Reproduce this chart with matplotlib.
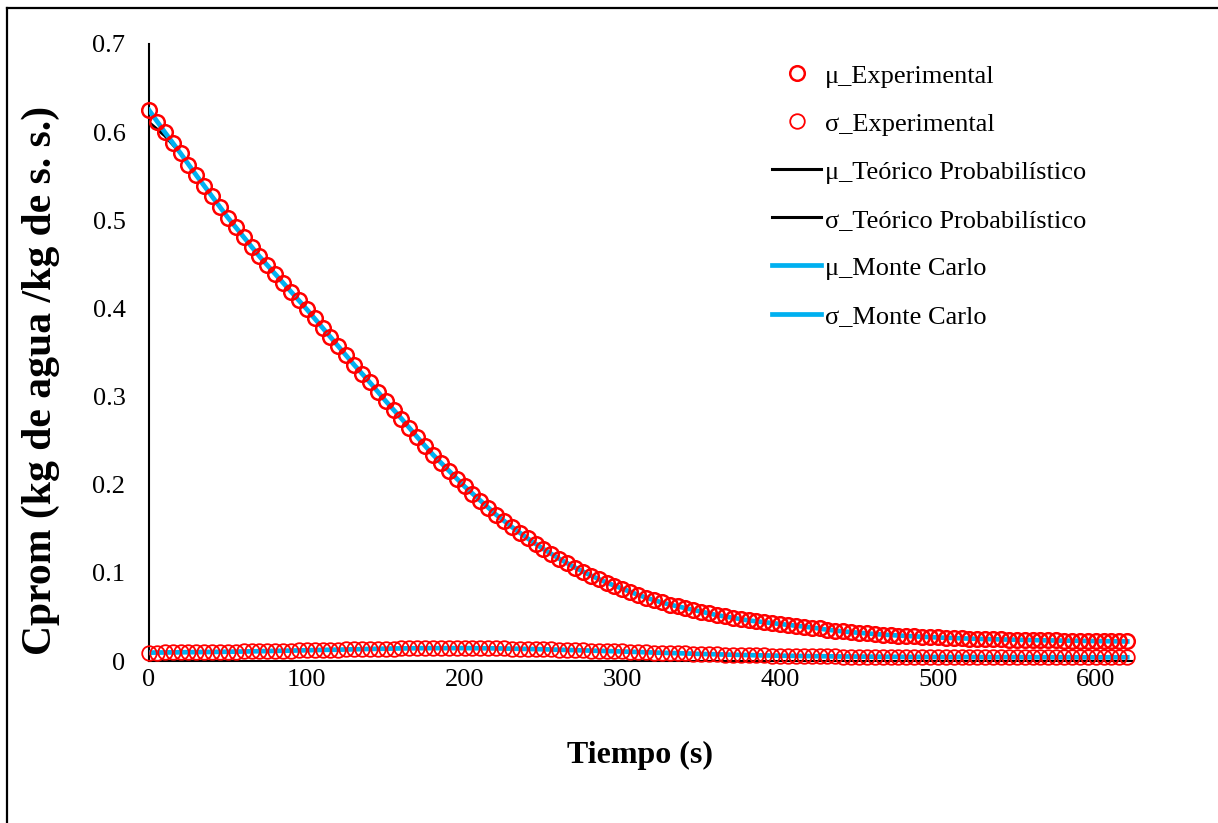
import matplotlib
matplotlib.use("Agg")
import matplotlib.pyplot as plt
from matplotlib.lines import Line2D

plt.rcParams['font.family'] = ['Liberation Serif', 'DejaVu Serif']

# tiempo (s)
t = list(range(0, 625, 5))

# media experimental, Cprom (kg de agua / kg de s. s.)
mu_exp = [0.625, 0.612, 0.600, 0.588, 0.576, 0.563, 0.551, 0.539, 0.527, 0.515,
          0.503, 0.492, 0.481, 0.470, 0.459, 0.449, 0.439, 0.429, 0.419, 0.409,
          0.399, 0.389, 0.378, 0.368, 0.357, 0.347, 0.336, 0.326, 0.316, 0.305,
          0.295, 0.285, 0.275, 0.264, 0.254, 0.244, 0.234, 0.225, 0.216, 0.207,
          0.198, 0.190, 0.182, 0.174, 0.166, 0.159, 0.152, 0.145, 0.139, 0.133,
          0.127, 0.121, 0.116, 0.111, 0.106, 0.101, 0.097, 0.093, 0.089, 0.085,
          0.082, 0.078, 0.075, 0.072, 0.069, 0.067, 0.064, 0.062, 0.060, 0.058,
          0.056, 0.054, 0.052, 0.051, 0.049, 0.048, 0.046, 0.045, 0.044, 0.043,
          0.042, 0.041, 0.040, 0.039, 0.038, 0.037, 0.0355, 0.0345, 0.0335, 0.0327,
          0.0320, 0.0313, 0.0306, 0.0300, 0.0294, 0.0289, 0.0284, 0.0279, 0.0275, 0.0271,
          0.0267, 0.0263, 0.0260, 0.0257, 0.0254, 0.0251, 0.0249, 0.0247, 0.0245, 0.0243,
          0.0241, 0.0239, 0.0237, 0.0236, 0.0234, 0.0233, 0.0231, 0.0230, 0.0229, 0.0228,
          0.0226, 0.0225, 0.0224, 0.0223, 0.0222]

# desviacion estandar experimental
sd_exp = [0.0095, 0.0096, 0.0097, 0.0098, 0.0099, 0.0100, 0.0101, 0.0102, 0.0103, 0.0104,
          0.0105, 0.0107, 0.0108, 0.0110, 0.0111, 0.0113, 0.0115, 0.0116, 0.0118, 0.0120,
          0.0122, 0.0124, 0.0126, 0.0127, 0.0129, 0.0131, 0.0133, 0.0135, 0.0137, 0.0138,
          0.0140, 0.0141, 0.0143, 0.0144, 0.0145, 0.0145, 0.0146, 0.0146, 0.0146, 0.0146,
          0.0146, 0.0145, 0.0145, 0.0144, 0.0143, 0.0142, 0.0140, 0.0139, 0.0137, 0.0135,
          0.0133, 0.0131, 0.0128, 0.0126, 0.0123, 0.0121, 0.0118, 0.0116, 0.0113, 0.0110,
          0.0108, 0.0105, 0.0102, 0.0099, 0.0096, 0.0094, 0.0091, 0.0088, 0.0086, 0.0083,
          0.0080, 0.0078, 0.0076, 0.0073, 0.0071, 0.0069, 0.0067, 0.0065, 0.0063, 0.0062,
          0.0060, 0.0059, 0.0058, 0.0056, 0.0055, 0.0054, 0.0053, 0.0052, 0.0051, 0.0051,
          0.0050, 0.0049, 0.0049, 0.0048, 0.0048, 0.0047, 0.0047, 0.0047, 0.0046, 0.0046,
          0.0046, 0.0045, 0.0045, 0.0045, 0.0045, 0.0044, 0.0044, 0.0044, 0.0044, 0.0044,
          0.0044, 0.0043, 0.0043, 0.0043, 0.0043, 0.0043, 0.0043, 0.0042, 0.0042, 0.0042,
          0.0042, 0.0042, 0.0042, 0.0042, 0.0042]

# modelo teorico probabilistico (cada 10 s)
t_mod = list(range(0, 630, 10))
mu_teo = [0.611, 0.596, 0.576, 0.551, 0.527, 0.503, 0.481, 0.459, 0.439, 0.419,
          0.399, 0.378, 0.357, 0.336, 0.316, 0.295, 0.275, 0.254, 0.234, 0.216,
          0.198, 0.182, 0.166, 0.152, 0.139, 0.127, 0.116, 0.106, 0.097, 0.089,
          0.082, 0.075, 0.069, 0.064, 0.060, 0.056, 0.052, 0.049, 0.046, 0.044,
          0.042, 0.040, 0.038, 0.0355, 0.0335, 0.0320, 0.0306, 0.0294, 0.0284, 0.0275,
          0.0267, 0.0260, 0.0254, 0.0249, 0.0245, 0.0241, 0.0237, 0.0234, 0.0231, 0.0229,
          0.0226, 0.0224, 0.0222]
sd_teo = [0.0095, 0.0097, 0.0099, 0.0101, 0.0103, 0.0105, 0.0108, 0.0111, 0.0115, 0.0118,
          0.0122, 0.0126, 0.0129, 0.0133, 0.0137, 0.0140, 0.0143, 0.0145, 0.0146, 0.0146,
          0.0146, 0.0145, 0.0143, 0.0140, 0.0137, 0.0133, 0.0128, 0.0123, 0.0118, 0.0113,
          0.0108, 0.0102, 0.0096, 0.0091, 0.0086, 0.0080, 0.0076, 0.0071, 0.0067, 0.0063,
          0.0060, 0.0058, 0.0055, 0.0053, 0.0051, 0.0050, 0.0049, 0.0048, 0.0047, 0.0046,
          0.0046, 0.0045, 0.0045, 0.0044, 0.0044, 0.0044, 0.0043, 0.0043, 0.0043, 0.0042,
          0.0042, 0.0042, 0.0042]

# Monte Carlo (cada 10 s)
mu_mc = [0.625, 0.600, 0.576, 0.551, 0.527, 0.503, 0.481, 0.459, 0.439, 0.419,
         0.399, 0.378, 0.357, 0.336, 0.316, 0.295, 0.275, 0.254, 0.234, 0.216,
         0.198, 0.182, 0.166, 0.152, 0.139, 0.127, 0.116, 0.106, 0.097, 0.089,
         0.082, 0.075, 0.069, 0.064, 0.060, 0.056, 0.052, 0.049, 0.046, 0.044,
         0.042, 0.040, 0.038, 0.0355, 0.0335, 0.0320, 0.0306, 0.0294, 0.0284, 0.0275,
         0.0267, 0.0260, 0.0254, 0.0249, 0.0245, 0.0241, 0.0237, 0.0234, 0.0231, 0.0229,
         0.0226, 0.0224, 0.0222]
sd_mc = sd_teo

x_ticks = [0, 100, 200, 300, 400, 500, 600]
y_ticks = [0, 0.1, 0.2, 0.3, 0.4, 0.5, 0.6, 0.7]
y_ticklabels = ['0', '0.1', '0.2', '0.3', '0.4', '0.5', '0.6', '0.7']

RED = '#FF0000'
CYAN = '#00B0F0'

fig = plt.figure(figsize=(12.18, 8.23), dpi=100)
ax = fig.add_axes([149 / 1218, 1 - 661 / 823, (1132 - 149) / 1218, (661 - 44) / 823])

ax.plot(t, mu_exp, 'o', ms=10.5, mfc='none', mec=RED, mew=1.8, clip_on=False, zorder=5,
        label='μ_Experimental')
ax.plot(t, sd_exp, 'o', ms=10.5, mfc='none', mec=RED, mew=1.3, clip_on=False, zorder=5,
        label='σ_Experimental')
ax.plot(t_mod, mu_teo, color='black', lw=2.2, zorder=3, label='μ_Teórico Probabilístico')
ax.plot(t_mod, sd_teo, color='black', lw=2.2, zorder=3, label='σ_Teórico Probabilístico')
ax.plot(t_mod, mu_mc, color=CYAN, lw=3.4, zorder=4, label='μ_Monte Carlo')
ax.plot(t_mod, sd_mc, color=CYAN, lw=3.4, zorder=4, label='σ_Monte Carlo')

ax.set_xlim(0, 623)
ax.set_ylim(0, 0.7)
ax.set_xticks(x_ticks)
ax.set_yticks(y_ticks)
ax.set_yticklabels(y_ticklabels)
ax.tick_params(axis='x', length=0, pad=6, labelsize=19)
ax.tick_params(axis='y', length=0, pad=17, labelsize=19)
for s in ['top', 'right']:
    ax.spines[s].set_visible(False)
for s in ['left', 'bottom']:
    ax.spines[s].set_linewidth(1.5)
    ax.spines[s].set_zorder(2)

fig.text(640 / 1218, 1 - 755 / 823, 'Tiempo (s)', fontsize=23, fontweight='bold',
         ha='center', va='center')
fig.text(41 / 1218, 1 - 380 / 823, 'Cprom (kg de agua /kg de s. s.)', fontsize=30,
         fontweight='bold', rotation=90, ha='center', va='center')

ax.legend(loc='upper left', bbox_to_anchor=(759 / 1218, 1 - 51 / 823),
          bbox_transform=fig.transFigure, frameon=False, fontsize=19,
          handlelength=1.86, handletextpad=0.15, labelspacing=0.93, borderpad=0,
          markerscale=1.0)

# marco exterior
fig.add_artist(Line2D([6.5 / 1218, 1.0], [1 - 7.5 / 823] * 2, color='black', lw=1.6,
                      transform=fig.transFigure))
fig.add_artist(Line2D([6.5 / 1218] * 2, [0.0, 1 - 7.5 / 823], color='black', lw=1.6,
                      transform=fig.transFigure))

fig.savefig('out.png', dpi=100)
